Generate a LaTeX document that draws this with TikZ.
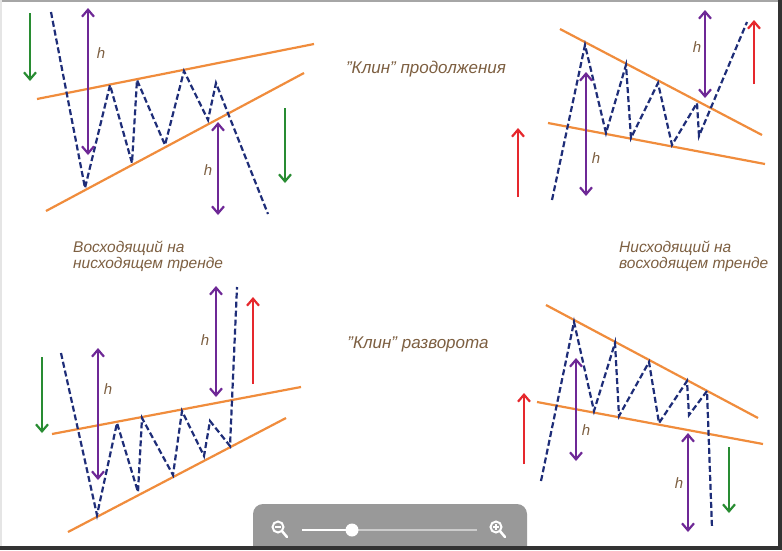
\documentclass[tikz,border=0pt]{standalone}
\usepackage{fontspec}
\setmainfont{Liberation Sans}
\usetikzlibrary{arrows.meta}

\definecolor{wedgeorange}{RGB}{240,140,60}
\definecolor{priceblue}{RGB}{30,45,120}
\definecolor{hpurple}{RGB}{110,40,150}
\definecolor{fallgreen}{RGB}{40,140,50}
\definecolor{risered}{RGB}{230,40,45}
\definecolor{labelbrown}{RGB}{125,95,65}

\newcommand{\sq}{\symbol{34}}

\tikzset{
  wedge/.style={wedgeorange, line width=2.2pt},
  price/.style={priceblue, line width=2.2pt, dash pattern=on 6pt off 3pt},
  hmeasure/.style={hpurple, line width=2.2pt, {Straight Barb[length=7pt,width=12pt]}-{Straight Barb[length=7pt,width=12pt]}},
  fall/.style={fallgreen, line width=2.2pt, -{Straight Barb[length=7pt,width=12pt]}},
  rise/.style={risered, line width=2.2pt, -{Straight Barb[length=7pt,width=12pt]}},
  caption/.style={labelbrown, inner sep=0pt, font=\fontsize{17}{19}\selectfont\itshape},
  trendnote/.style={labelbrown, inner sep=0pt, font=\fontsize{15.5}{16}\selectfont\itshape},
  hlabel/.style={labelbrown, inner sep=0pt, font=\fontsize{15}{17}\selectfont\itshape}
}

\begin{document}
\begin{tikzpicture}[x=1pt,y=-1pt]
\useasboundingbox (0,0) rectangle (782,550);
\fill[white] (0,0) rectangle (782,550);

% rising wedge on a falling trend
\draw [wedge] (37,99) -- (314,44);
\draw [wedge] (46,211) -- (304,73);
\draw [price] (51,12) -- (85,188) -- (110,85) -- (132,163) -- (137,80) -- (165,145)
  -- (184,71) -- (208,120) -- (216,83) -- (268,214);
\draw [fall] (30,13) -- (30,81);
\draw [fall] (285,108) -- (285,183);
\draw [hmeasure] (88,8) -- (88,155);
\draw [hmeasure] (218,122) -- (218,215);
\node (hA) [hlabel] at (101,53) {h};
\node (hB) [hlabel] at (208,170) {h};

% falling wedge on a rising trend
\draw [wedge] (560,29) -- (762,135);
\draw [wedge] (548,123) -- (765,164);
\draw [price] (552,200) -- (585,45) -- (606,133) -- (626,65) -- (631,138) -- (658,83)
  -- (672,145) -- (697,103) -- (699,136) -- (747,22);
\draw [rise] (518,197) -- (518,128);
\draw [rise] (754,84) -- (754,20);
\draw [hmeasure] (586,72) -- (586,196);
\draw [hmeasure] (705,10) -- (705,98);
\node (hC) [hlabel] at (596,158) {h};
\node (hD) [hlabel] at (697,47) {h};

% reversal, rising wedge
\draw [wedge] (52,434) -- (301,387);
\draw [wedge] (68,532) -- (286,418);
\draw [price] (61,353) -- (97,515) -- (117,423) -- (138,492) -- (142,418) -- (173,475)
  -- (182,411) -- (204,456) -- (210,421) -- (230,446) -- (237,287);
\draw [fall] (42,357) -- (42,433);
\draw [rise] (253,384) -- (253,297);
\draw [hmeasure] (98,348) -- (98,480);
\draw [hmeasure] (216,286) -- (216,397);
\node (hE) [hlabel] at (108,389) {h};
\node (hF) [hlabel] at (205,340) {h};

% reversal, falling wedge
\draw [wedge] (546,305) -- (758,418);
\draw [wedge] (537,402) -- (763,444);
\draw [price] (541,481) -- (574,322) -- (594,411) -- (615,343) -- (619,416) -- (649,362)
  -- (659,423) -- (687,381) -- (689,415) -- (707,391) -- (712,528);
\draw [rise] (524,464) -- (524,393);
\draw [fall] (729,447) -- (729,513);
\draw [hmeasure] (576,358) -- (576,461);
\draw [hmeasure] (688,433) -- (688,532);
\node (hG) [hlabel] at (586,430) {h};
\node (hH) [hlabel] at (679,483) {h};

% captions
\node (cont) [caption] at (426,69) {\sq Клин\sq{} продолжения};
\node (rev) [caption] at (418,344) {\sq Клин\sq{} разворота};
\node (upondown) [trendnote, anchor=west, align=left] at (73,256) {Восходящий на\\нисходящем тренде};
\node (downonup) [trendnote, anchor=west, align=left] at (619,256) {Нисходящий на\\восходящем тренде};

% zoom bar
\fill[black!40] (253,546) [rounded corners=10pt] -- (253,504) -- (527,504) [sharp corners] -- (527,546) -- cycle;
\draw[black!20, line width=2pt] (352,530) -- (477,530);
\draw[white, line width=2pt] (302,530) -- (352,530);
\fill[white] (352,530) circle (6.5);
\draw[white, line width=2pt] (278,527) circle (5.5);
\draw[white, line width=2.5pt, line cap=round] (282,531) -- (287,537);
\draw[white, line width=1.6pt] (275,527) -- (281,527);
\draw[white, line width=2pt] (496,527) circle (5.5);
\draw[white, line width=2.5pt, line cap=round] (500,531) -- (505,537);
\draw[white, line width=1.6pt] (493,527) -- (499,527) (496,524) -- (496,530);

% frame
\fill[black!35] (0,0) rectangle (782,2);
\fill[black!10] (0,0) rectangle (1.5,550);
\fill[black!80] (778,0) rectangle (782,550);
\fill[black!80] (0,546) rectangle (782,550);
\end{tikzpicture}
\end{document}
